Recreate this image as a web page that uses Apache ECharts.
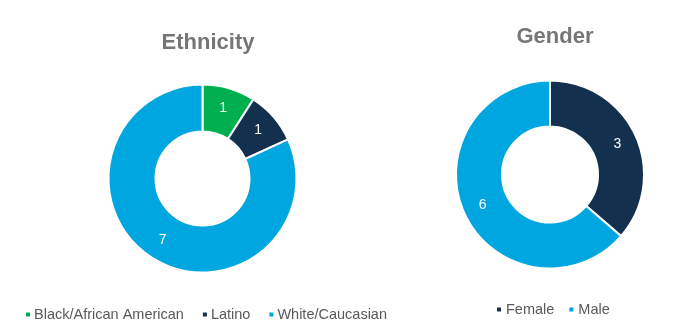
<!DOCTYPE html>
<html><head><meta charset="utf-8">
<script src="https://cdn.jsdelivr.net/npm/echarts@6/dist/echarts.min.js"></script>
<style>html,body{margin:0;padding:0;background:#fff}#c{width:686px;height:336px}</style>
</head><body><div id="c"></div>
<script>
// Categories
var ethnicityCategories = ['Black/African American', 'Latino', 'White/Caucasian'];
var genderCategories = ['Female', 'Male'];
var ethnicityValues = [1, 1, 9];
var genderValues = [4, 7];
// Data labels as printed in the reference
var ethnicityLabels = ['1', '1', '7'];
var genderLabels = ['3', '6'];
var colorsEthnicity = ['#00B050', '#14304F', '#00A6DF'];
var colorsGender = ['#14304F', '#00A6DF'];

function build(cats, vals, labels, cols) {
  return cats.map(function (c, i) {
    return { name: c, value: vals[i], labelText: labels[i], itemStyle: { color: cols[i] } };
  });
}
var font = '"Liberation Sans", Arial, sans-serif';
var labelCfg = {
  position: 'inside', color: '#fff', fontFamily: font, fontSize: 14,
  formatter: function (p) { return p.data.labelText; }
};
var chart = echarts.init(document.getElementById('c'));
chart.setOption({
  animation: false,
  title: [
    { text: 'Ethnicity', left: 203, top: 27, textAlign: 'center', textStyle: { fontFamily: font, fontSize: 22, fontWeight: 'bold', color: '#767676' } },
    { text: 'Gender', left: 550, top: 21, textAlign: 'center', textStyle: { fontFamily: font, fontSize: 22, fontWeight: 'bold', color: '#767676' } }
  ],
  legend: [
    { data: ethnicityCategories, left: 19, top: 302, icon: 'rect', itemWidth: 6, itemHeight: 6, itemGap: 17,
      textStyle: { fontFamily: font, fontSize: 14.5, color: '#595959', padding: [0, 0, 0, -2] } },
    { data: genderCategories, left: 490, top: 297, icon: 'rect', itemWidth: 6, itemHeight: 6, itemGap: 13,
      textStyle: { fontFamily: font, fontSize: 14.5, color: '#595959', padding: [0, 0, 0, -1] } }
  ],
  series: [
    { type: 'pie', center: [202.5, 178.5], radius: [47, 94], startAngle: 90, clockwise: true,
      itemStyle: { borderColor: '#fff', borderWidth: 2 },
      label: labelCfg, labelLine: { show: false },
      data: build(ethnicityCategories, ethnicityValues, ethnicityLabels, colorsEthnicity) },
    { type: 'pie', center: [550, 174.5], radius: [48, 94], startAngle: 90, clockwise: true,
      itemStyle: { borderColor: '#fff', borderWidth: 2 },
      label: labelCfg, labelLine: { show: false },
      data: build(genderCategories, genderValues, genderLabels, colorsGender) }
  ]
});
</script></body></html>
